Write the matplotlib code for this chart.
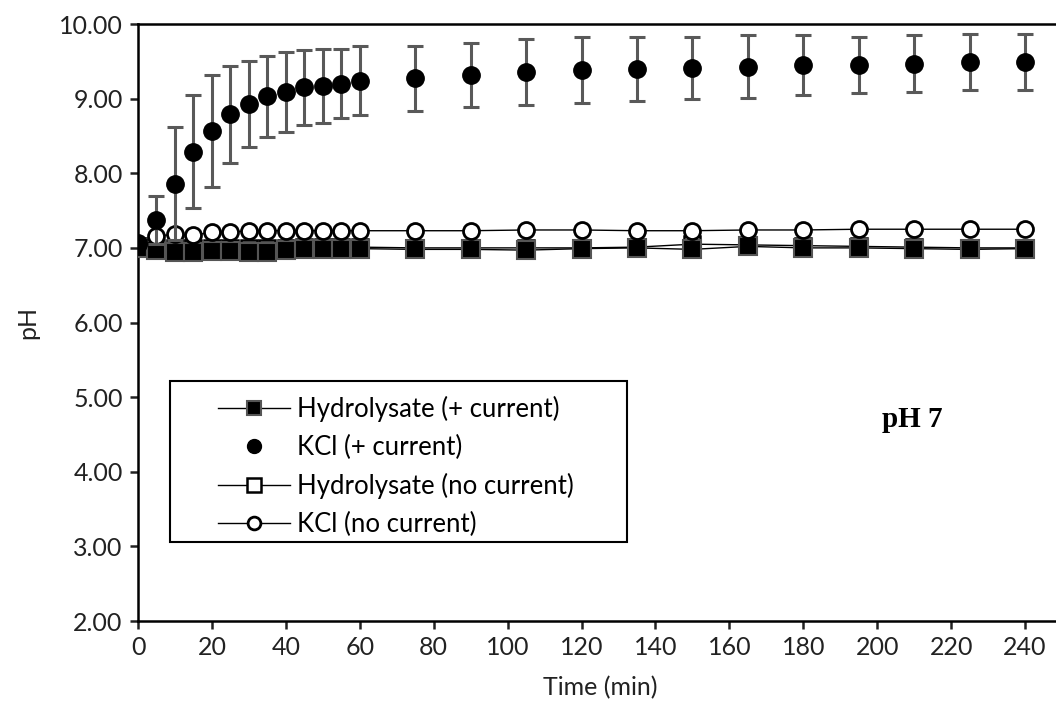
import matplotlib.pyplot as plt
from matplotlib.patches import Rectangle

# sampling times (min)
time = [0, 5, 10, 15, 20, 25, 30, 35, 40, 45, 50, 55, 60,
        75, 90, 105, 120, 135, 150, 165, 180, 195, 210, 225, 240]

# pH readings
hydro_current = [7.00, 6.97, 6.95, 6.95, 6.96, 6.96, 6.95, 6.95, 6.97, 6.99, 6.99, 6.99, 6.99,
                 6.98, 6.98, 6.97, 6.99, 7.00, 6.98, 7.02, 7.00, 7.00, 6.99, 6.98, 6.99]
kcl_current = [7.07, 7.37, 7.86, 8.29, 8.57, 8.79, 8.93, 9.03, 9.09, 9.15, 9.17, 9.20, 9.24,
               9.27, 9.32, 9.36, 9.38, 9.40, 9.41, 9.43, 9.45, 9.45, 9.47, 9.49, 9.49]
kcl_current_err = [0.00, 0.32, 0.76, 0.76, 0.75, 0.65, 0.58, 0.54, 0.54, 0.50, 0.49, 0.46, 0.46,
                   0.44, 0.43, 0.44, 0.44, 0.43, 0.42, 0.42, 0.40, 0.37, 0.38, 0.38, 0.38]
hydro_none = [7.02, 7.00, 7.00, 7.00, 7.00, 7.00, 7.00, 7.00, 7.00, 7.01, 7.01, 7.01, 7.01,
              7.00, 7.00, 7.00, 7.00, 7.01, 7.05, 7.04, 7.03, 7.02, 7.01, 7.00, 7.00]
kcl_none = [7.05, 7.16, 7.18, 7.17, 7.21, 7.21, 7.23, 7.23, 7.23, 7.23, 7.23, 7.23, 7.23,
            7.23, 7.23, 7.24, 7.24, 7.23, 7.23, 7.24, 7.24, 7.25, 7.25, 7.25, 7.25]

x_ticks = list(range(0, 241, 20))
y_ticks = [2, 3, 4, 5, 6, 7, 8, 9, 10]

plt.rcParams['font.family'] = ['Lato', 'DejaVu Sans']

fig = plt.figure(figsize=(10.56, 7.19), dpi=100)
ax = fig.add_axes([0.1307, 0.1363, 0.875, 0.8303])

h_none, = ax.plot(time, hydro_none, color='black', lw=1.0, marker='s', ms=12,
                  mfc='white', mec='black', mew=1.8, label='Hydrolysate (no current)', zorder=2)
h_cur, = ax.plot(time, hydro_current, color='black', lw=1.0, marker='s', ms=13,
                 mfc='black', mec='#555555', mew=1.5, label='Hydrolysate (+ current)', zorder=3)
k_none, = ax.plot(time, kcl_none, color='black', lw=1.0, marker='o', ms=11.5,
                  mfc='white', mec='black', mew=2.0, label='KCl (no current)', zorder=3)
k_cur = ax.errorbar(time, kcl_current, yerr=kcl_current_err, fmt='o', ms=12.5,
                    color='black', ecolor='#595959', elinewidth=2.2, capsize=6, capthick=2.2,
                    label='KCl (+ current)', zorder=4)

ax.set_xlim(0, 250)
ax.set_ylim(2, 10)
ax.set_xticks(x_ticks)
ax.set_yticks(y_ticks)
ax.set_yticklabels([f'{v:.2f}' for v in y_ticks])
ax.tick_params(labelsize=18, length=6, width=1.8, direction='out', colors='#222222', pad=5)
for s in ax.spines.values():
    s.set_linewidth(1.8)

ax.set_xlabel('Time (min)', fontsize=18, color='#222222', labelpad=12)
ax.set_ylabel('pH', fontsize=18, color='#222222', labelpad=14)

ax.text(0.838, 0.337, 'pH 7', transform=ax.transAxes, fontsize=21, fontweight='bold',
        family='Liberation Serif', ha='center', va='center')

# legend box drawn separately to match its wide frame
box = Rectangle((0.0346, 0.132), 0.495, 0.27, transform=ax.transAxes, fill=True,
                facecolor='white', edgecolor='black', lw=1.5, zorder=5)
ax.add_patch(box)
leg = ax.legend([h_cur, k_cur[0], h_none, k_none],
                ['Hydrolysate (+ current)', 'KCl (+ current)', 'Hydrolysate (no current)', 'KCl (no current)'],
                loc='upper left', bbox_to_anchor=(0.075, 0.394), frameon=False, fontsize=18.5,
                handlelength=2.8, handletextpad=0.3, labelspacing=0.5, borderaxespad=0,
                markerscale=0.8)
leg.set_zorder(6)

fig.savefig('out.png', dpi=100)
